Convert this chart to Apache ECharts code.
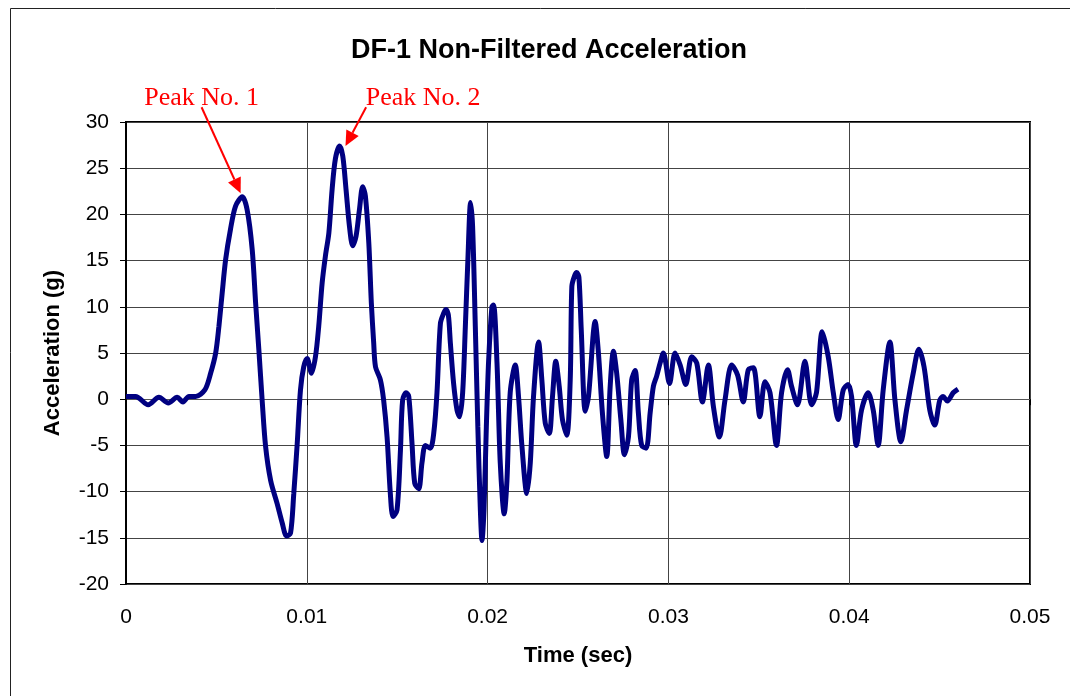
<!DOCTYPE html>
<html>
<head>
<meta charset="utf-8">
<script src="https://cdn.jsdelivr.net/npm/echarts@6/dist/echarts.min.js"></script>
<style>
  html, body { margin: 0; padding: 0; background: #fff; }
  #chart { width: 1070px; height: 696px; }
</style>
</head>
<body>
<div id="chart"></div>
<script>
// time in milliseconds
var timeMs = [
  0, 0.53, 1.23, 1.82, 2.34, 2.83, 3.15, 3.48, 3.85, 4.36,
  4.68, 4.96, 5.14, 5.32, 5.51, 5.78, 6.06, 6.43, 6.70, 6.98,
  7.17, 7.35, 7.53, 7.72, 8.00, 8.36, 8.64, 8.88, 9.10, 9.28,
  9.47, 9.65, 9.83, 10.02, 10.26, 10.48, 10.66, 10.85, 11.03, 11.22,
  11.40, 11.58, 11.81, 11.99, 12.17, 12.36, 12.54, 12.72, 12.91, 13.09,
  13.24, 13.43, 13.57, 13.70, 13.80, 14.07, 14.25, 14.44, 14.62, 14.77,
  14.99, 15.18, 15.30, 15.49, 15.64, 15.82, 15.97, 16.19, 16.37, 16.56,
  16.83, 17.02, 17.20, 17.39, 17.57, 17.70, 17.83, 17.94, 18.12, 18.31, 18.45,
  18.62, 18.77, 18.91, 19.06, 19.17, 19.32, 19.46, 19.60, 19.69, 19.80,
  19.93, 20.06, 20.24, 20.33, 20.52, 20.70, 20.92, 21.07, 21.25, 21.53,
  21.71, 21.90, 22.17, 22.36, 22.54, 22.82, 23.00, 23.19, 23.41, 23.59,
  23.77, 23.96, 24.14, 24.38, 24.57, 24.66, 24.80, 24.93, 25.05, 25.18, 25.40,
  25.58, 25.95, 26.13, 26.35, 26.59, 26.78, 26.96, 27.14, 27.37, 27.57,
  27.79, 27.97, 28.16, 28.34, 28.52, 28.77, 28.99, 29.17, 29.35, 29.54,
  29.72, 30.06, 30.37, 30.65, 30.96, 31.29, 31.57, 31.88, 32.21, 32.49,
  32.82, 33.13, 33.50, 33.83, 34.14, 34.42, 34.70, 35.06, 35.34, 35.62,
  35.98, 36.26, 36.59, 36.81, 37.14, 37.55, 37.92, 38.19, 38.51, 38.84,
  39.12, 39.39, 39.67, 39.94, 40.13, 40.40, 40.68, 41.05, 41.33, 41.60,
  41.88, 42.25, 42.53, 42.86, 43.17, 43.54, 43.85, 44.14, 44.46, 44.73,
  45.01, 45.19, 45.43, 45.75, 46.02
];

// acceleration in g
var accelG = [
  0.3, 0.3, -0.6, 0.2, -0.4, 0.2, -0.3, 0.3, 0.3, 1.0,
  2.8, 5.0, 7.9, 11.5, 15.1, 18.4, 20.9, 21.9, 20.5, 16.2,
  10.4, 5.3, -0.1, -5.1, -8.8, -11.3, -13.4, -14.8, -14.5, -10.2,
  -4.8, 1.0, 3.5, 4.4, 2.8, 4.6, 7.9, 12.6, 15.5, 18.0,
  22.7, 26.0, 27.4, 26.3, 22.7, 18.7, 16.6, 17.6, 20.5, 23.0,
  22.0, 16.9, 10.4, 6.1, 3.5, 2.1, -0.1, -4.1, -10.2, -12.7,
  -12.0, -5.5, -0.1, 0.7, 0.3, -4.8, -9.1, -9.7, -6.9, -5.0,
  -5.3, -3.7, 0.7, 8.2, 9.3, 9.7, 9.1, 6.1, 1.7, -1.2, -1.9,
  0.7, 7.9, 15.1, 21.3, 18.7, 7.9, -3.0, -12.0, -15.3, -12.0,
  -3.0, 4.3, 10.0, 10.2, 3.9, -6.9, -12.4, -8.8, 0.7, 3.7,
  0.3, -5.1, -10.2, -6.9, 0.3, 6.2, 2.1, -2.6, -3.7, 0.3,
  4.1, 1.4, -2.2, -3.9, 2.1, 12.2, 13.3, 13.7, 13.2, 7.5, -1.3,
  0.3, 8.4, 5.0, -1.5, -6.2, 1.4, 5.2, 2.8, -2.2, -6.0,
  -4.1, 2.1, 3.1, -1.5, -5.0, -5.3, -1.5, 1.4, 2.5, 3.9,
  5.0, 1.7, 5.0, 3.7, 1.6, 4.6, 3.9, -0.3, 3.7, -0.8,
  -4.1, -0.1, 3.7, 2.6, -0.3, 3.2, 3.4, -1.9, 1.9, 0.7,
  -5.0, 0.7, 3.2, 1.4, -0.6, 4.1, -0.6, 0.7, 7.3, 4.6,
  0.7, -2.2, 1.0, 1.6, 0.3, -5.0, -1.2, 0.7, -1.2, -5.0,
  1.0, 6.2, -0.1, -4.6, -1.2, 2.8, 5.4, 3.5, -1.2, -2.8,
  -0.1, 0.3, -0.2, 0.7, 1.1
];

var xTicks = [0, 0.01, 0.02, 0.03, 0.04, 0.05];
var yTicks = [-20, -15, -10, -5, 0, 5, 10, 15, 20, 25, 30];

// annotation arrows: [start, tip] in [sec, g]
var peakNames = ["Peak No. 1", "Peak No. 2"];
var peakArrows = [
  [[0.00418, 31.6], [0.00634, 22.3]],
  [[0.01328, 31.6], [0.01214, 27.4]]
];

var myChart = echarts.init(document.getElementById("chart"));

var seriesData = [];
for (var i = 0; i < timeMs.length; i++) {
  seriesData.push([timeMs[i] / 1000, accelG[i]]);
}

var fmtX = function (v) {
  return v === 0 ? "0" : v.toFixed(2);
};

var option = {
  animation: false,
  backgroundColor: "#fff",
  title: {
    text: "DF-1 Non-Filtered Acceleration",
    left: 544,
    top: 32,
    textAlign: "center",
    textStyle: {
      fontFamily: "Liberation Sans, Arial, sans-serif",
      fontSize: 27,
      fontWeight: "bold",
      color: "#000"
    }
  },
  grid: {
    left: 126,
    top: 122,
    right: 40,
    bottom: 112,
    show: true,
    borderColor: "#000",
    borderWidth: 2,
    backgroundColor: "transparent"
  },
  xAxis: [
    {
      type: "value",
      min: xTicks[0],
      max: xTicks[xTicks.length - 1],
      interval: 0.01,
      axisLine: { show: true, onZero: true, lineStyle: { color: "#555", width: 1 } },
      axisTick: { show: true, length: 6, lineStyle: { color: "#000" } },
      axisLabel: { show: false },
      splitLine: { show: true, lineStyle: { color: "#444", width: 1 } }
    },
    {
      type: "value",
      min: xTicks[0],
      max: xTicks[xTicks.length - 1],
      interval: 0.01,
      position: "bottom",
      name: "Time (sec)",
      nameLocation: "middle",
      nameGap: 61,
      nameTextStyle: {
        fontFamily: "Liberation Sans, Arial, sans-serif",
        fontSize: 22,
        fontWeight: "bold",
        color: "#000"
      },
      axisLine: { show: false, onZero: false },
      axisTick: { show: false },
      splitLine: { show: false },
      axisLabel: {
        margin: 23,
        formatter: fmtX,
        fontFamily: "Liberation Sans, Arial, sans-serif",
        fontSize: 21,
        color: "#000"
      }
    }
  ],
  yAxis: {
    type: "value",
    min: yTicks[0],
    max: yTicks[yTicks.length - 1],
    interval: 5,
    name: "Acceleration (g)",
    nameLocation: "middle",
    nameGap: 62,
    nameRotate: 90,
    nameTextStyle: {
      fontFamily: "Liberation Sans, Arial, sans-serif",
      fontSize: 22,
      fontWeight: "bold",
      color: "#000"
    },
    axisLine: { show: true, onZero: false, lineStyle: { color: "#000", width: 2 } },
    axisTick: { show: true, length: 6, lineStyle: { color: "#000" } },
    axisLabel: {
      margin: 17,
      fontFamily: "Liberation Sans, Arial, sans-serif",
      fontSize: 21,
      color: "#000"
    },
    splitLine: { show: true, lineStyle: { color: "#444", width: 1 } }
  },
  series: [
    {
      type: "line",
      xAxisIndex: 0,
      data: seriesData,
      smooth: 0.3,
      showSymbol: false,
      clip: false,
      lineStyle: { color: "#000080", width: 5 },
      emphasis: { disabled: true }
    }
  ],
  graphic: [
    {
      type: "rect",
      left: 8,
      top: 6,
      shape: { width: 1100, height: 720 },
      style: { fill: "none", stroke: "#222", lineWidth: 1 },
      silent: true,
      z: 100
    }
  ]
};

myChart.setOption(option);

// peak labels and red arrows, positioned through the axes
var extra = [];
var labelOffsets = [0, 57];
var headLen = 15;
var headHalf = 7;
for (var p = 0; p < peakNames.length; p++) {
  var a = myChart.convertToPixel({ xAxisIndex: 0, yAxisIndex: 0 }, peakArrows[p][0]);
  var b = myChart.convertToPixel({ xAxisIndex: 0, yAxisIndex: 0 }, peakArrows[p][1]);
  var dx = b[0] - a[0];
  var dy = b[1] - a[1];
  var len = Math.sqrt(dx * dx + dy * dy);
  var ux = dx / len;
  var uy = dy / len;
  var bx = b[0] - ux * headLen;
  var by = b[1] - uy * headLen;
  extra.push({
    type: "text",
    x: a[0] + labelOffsets[p],
    y: a[1] + 4,
    style: {
      text: peakNames[p],
      fill: "#ff0000",
      font: "26px 'Liberation Serif', 'Times New Roman', serif",
      align: "center",
      verticalAlign: "bottom"
    },
    silent: true
  });
  extra.push({
    type: "line",
    shape: { x1: a[0], y1: a[1], x2: bx, y2: by },
    style: { stroke: "#ff0000", lineWidth: 2 },
    silent: true,
    z: 50
  });
  extra.push({
    type: "polygon",
    shape: {
      points: [
        [b[0], b[1]],
        [bx - uy * headHalf, by + ux * headHalf],
        [bx + uy * headHalf, by - ux * headHalf]
      ]
    },
    style: { fill: "#ff0000" },
    silent: true,
    z: 50
  });
}
myChart.setOption({ graphic: option.graphic.concat(extra) });
</script>
</body>
</html>
